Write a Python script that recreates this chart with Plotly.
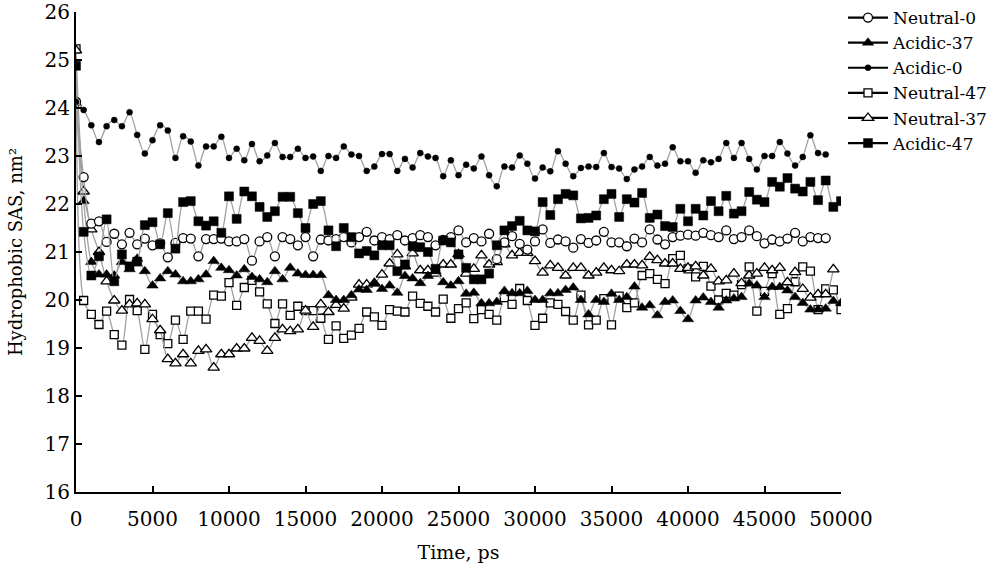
import plotly.graph_objects as go

TIME = [i * 500 for i in range(101)]

NEUTRAL_0 = [24.13, 22.56, 21.59, 21.64, 21.21, 21.38, 21.16, 21.40, 21.16, 21.28,
             21.14, 21.18, 20.89, 21.19, 21.29, 21.28, 20.91, 21.27, 21.27, 21.28,
             21.22, 21.22, 21.27, 20.82, 21.22, 21.31, 20.91, 21.31, 21.27, 21.14,
             21.31, 20.91, 21.26, 21.24, 21.27, 21.31, 21.20, 21.31, 21.42, 21.24,
             21.31, 21.27, 21.35, 21.24, 21.29, 21.35, 21.31, 21.14, 21.25, 21.31,
             21.45, 21.20, 21.29, 21.22, 21.38, 20.85, 21.20, 21.33, 21.17, 21.05,
             21.22, 21.47, 21.19, 21.26, 21.22, 21.09, 21.27, 21.19, 21.24, 21.42,
             21.20, 21.20, 21.12, 21.28, 21.20, 21.47, 21.26, 21.16, 21.31, 21.34,
             21.36, 21.34, 21.40, 21.35, 21.31, 21.45, 21.27, 21.31, 21.45, 21.33,
             21.18, 21.26, 21.22, 21.28, 21.40, 21.22, 21.31, 21.29, 21.29, None, None]

ACIDIC_37 = [24.10, 22.06, 20.79, 20.53, 20.53, 20.51, 20.79, 20.64, 20.86, 20.60,
             20.30, 20.45, 20.60, 20.53, 20.39, 20.39, 20.43, 20.53, 20.81, 20.67,
             20.62, 20.51, 20.64, 20.48, 20.43, 20.37, 20.60, 20.43, 20.67, 20.55,
             20.52, 20.52, 20.52, 20.10, 20.00, 20.00, 20.10, 20.22, 20.21, 20.34,
             20.23, 20.30, 20.15, 20.50, 20.45, 20.35, 20.50, 20.60, 20.37, 20.30,
             20.39, 20.13, 20.15, 19.93, 19.93, 19.96, 20.19, 20.14, 20.14, 20.19,
             20.00, 20.00, 20.14, 20.14, 20.21, 20.26, 20.00, 19.70, 20.00, 19.96,
             20.13, 20.00, 20.06, 20.28, 19.84, 19.89, 19.68, 19.96, 19.99, 19.77,
             19.60, 19.99, 20.05, 19.96, 19.84, 19.99, 20.03, 20.06, 20.34, 20.30,
             20.06, 20.27, 20.27, 20.20, 20.06, 19.94, 19.80, 19.80, 19.82, 19.98, 19.94]

ACIDIC_0 = [24.13, 23.96, 23.64, 23.29, 23.62, 23.75, 23.62, 23.91, 23.44, 23.05,
            23.33, 23.64, 23.53, 22.96, 23.41, 23.30, 22.80, 23.20, 23.20, 23.40,
            22.96, 23.15, 22.91, 23.25, 22.89, 23.01, 23.27, 22.98, 22.98, 23.15,
            22.96, 22.99, 22.69, 23.00, 22.96, 23.20, 23.03, 23.00, 22.69, 22.78,
            23.04, 23.04, 22.69, 22.94, 22.76, 23.06, 22.99, 22.96, 22.58, 22.91,
            22.60, 22.82, 22.74, 22.99, 22.60, 22.37, 22.78, 22.76, 23.01, 22.84,
            22.53, 22.76, 22.68, 23.10, 22.84, 22.58, 22.75, 22.78, 22.77, 23.06,
            22.77, 22.74, 22.52, 22.72, 22.78, 22.98, 22.80, 22.84, 23.18, 22.89,
            22.89, 22.65, 22.91, 22.87, 22.94, 23.27, 22.96, 23.27, 22.94, 22.72,
            23.00, 23.00, 23.29, 23.05, 22.80, 22.98, 23.43, 23.06, 23.03, None, None]

NEUTRAL_47 = [25.23, 19.99, 19.70, 19.49, 19.77, 19.28, 19.06, 20.01, 19.78, 18.97,
              19.70, 19.28, 19.09, 19.58, 19.18, 19.77, 19.77, 19.60, 20.10, 20.08,
              20.36, 19.89, 20.26, 20.41, 20.17, 19.92, 19.51, 19.92, 19.68, 19.87,
              19.78, 19.78, 19.62, 19.18, 19.46, 19.20, 19.27, 19.41, 19.75, 19.65,
              19.47, 19.80, 19.77, 19.75, 20.08, 19.93, 19.87, 19.75, 20.02, 19.62,
              19.82, 19.94, 19.61, 19.80, 19.70, 19.58, 20.05, 19.91, 20.24, 19.99,
              19.47, 19.62, 19.94, 19.91, 19.76, 19.58, 20.10, 19.48, 19.58, 20.03,
              19.48, 20.08, 19.84, 19.94, 20.51, 20.55, 20.43, 20.34, 20.86, 20.93,
              20.65, 20.48, 20.70, 20.29, 20.00, 20.14, 20.10, 20.32, 20.69, 19.77,
              20.18, 20.55, 19.70, 19.82, 20.38, 20.69, 20.60, 19.80, 20.23, 20.21, 19.80]

NEUTRAL_37 = [25.20, 22.26, 21.47, 21.00, 20.39, 19.99, 19.78, 19.91, 19.93, 19.91,
              19.60, 19.37, 18.77, 18.68, 18.87, 18.68, 18.94, 18.97, 18.59, 18.87,
              18.87, 18.99, 18.99, 19.21, 19.15, 18.94, 19.21, 19.39, 19.35, 19.39,
              19.78, 19.44, 19.91, 19.75, 19.90, 19.82, 20.05, 20.32, 20.32, 20.35,
              20.53, 20.76, 20.95, 20.70, 20.97, 20.62, 20.62, 20.55, 20.74, 20.74,
              20.95, 20.55, 20.65, 20.93, 20.74, 20.79, 21.16, 20.93, 20.98, 20.98,
              20.81, 20.57, 20.72, 20.67, 20.51, 20.67, 20.67, 20.51, 20.57, 20.67,
              20.62, 20.60, 20.74, 20.74, 20.72, 20.90, 20.83, 20.76, 20.76, 20.65,
              20.67, 20.70, 20.51, 20.65, 20.39, 20.41, 20.55, 20.35, 20.51, 20.55,
              20.67, 20.62, 20.67, 20.37, 20.58, 20.23, 20.05, 20.12, 20.12, 20.64, None]

ACIDIC_47 = [24.88, 21.42, 20.51, 20.91, 21.68, 20.39, 20.95, 20.70, 20.80, 21.56,
             21.62, 21.16, 21.81, 21.07, 22.04, 22.06, 21.64, 21.55, 21.64, 21.40,
             22.16, 21.69, 22.26, 22.16, 21.94, 21.73, 21.85, 22.15, 22.15, 21.81,
             21.50, 22.00, 22.06, 21.45, 21.12, 21.50, 21.31, 20.97, 21.02, 20.93,
             21.14, 21.14, 20.60, 20.74, 21.12, 21.10, 21.00, 20.65, 21.24, 21.20,
             20.95, 20.67, 20.43, 20.43, 20.55, 21.14, 21.45, 21.54, 21.65, 21.45,
             21.43, 22.04, 21.77, 22.10, 22.21, 22.18, 21.70, 21.71, 21.76, 22.10,
             22.21, 21.73, 22.10, 22.03, 22.23, 21.71, 21.78, 21.54, 21.52, 21.90,
             21.64, 21.90, 21.76, 22.06, 21.85, 22.17, 21.80, 21.85, 22.25, 22.09,
             22.04, 22.46, 22.36, 22.54, 22.32, 22.26, 22.46, 22.08, 22.49, 21.94, 22.06]

SERIES_NAMES = ["Neutral-0", "Acidic-37", "Acidic-0", "Neutral-47", "Neutral-37", "Acidic-47"]
SERIES_VALUES = [NEUTRAL_0, ACIDIC_37, ACIDIC_0, NEUTRAL_47, NEUTRAL_37, ACIDIC_47]

X_TICKS = [0, 5000, 10000, 15000, 20000, 25000, 30000, 35000, 40000, 45000, 50000]
Y_TICKS = [16, 17, 18, 19, 20, 21, 22, 23, 24, 25, 26]

MARKERS = {
    "Neutral-0": dict(symbol="circle", size=9, color="white", line=dict(color="black", width=1.3)),
    "Acidic-37": dict(symbol="triangle-up", size=10, color="black", line=dict(color="black", width=0.5)),
    "Acidic-0": dict(symbol="circle", size=6, color="black", line=dict(color="black", width=0.5)),
    "Neutral-47": dict(symbol="square", size=8, color="white", line=dict(color="black", width=1.3)),
    "Neutral-37": dict(symbol="triangle-up", size=10, color="white", line=dict(color="black", width=1.3)),
    "Acidic-47": dict(symbol="square", size=9, color="black", line=dict(color="black", width=0.5)),
}

FONT = "DejaVu Serif"

fig = go.Figure()
draw_order = ["Neutral-47", "Neutral-37", "Acidic-37", "Neutral-0", "Acidic-47", "Acidic-0"]
for name in draw_order:
    vals = SERIES_VALUES[SERIES_NAMES.index(name)]
    fig.add_trace(go.Scatter(
        x=TIME, y=vals, mode="lines+markers", name=name, showlegend=False,
        line=dict(color="#a0a0a0", width=1.3, shape="spline", smoothing=0.8),
        marker=MARKERS[name], connectgaps=False,
    ))
for name in SERIES_NAMES:
    fig.add_trace(go.Scatter(
        x=[None], y=[None], mode="lines+markers", name=name, showlegend=True,
        line=dict(color="black", width=2.2), marker=MARKERS[name],
    ))

fig.update_layout(
    width=1000, height=568,
    margin=dict(l=76, r=159, t=12, b=76),
    paper_bgcolor="white", plot_bgcolor="white",
    font=dict(family=FONT, size=18, color="black"),
    legend=dict(xref="container", yref="container", x=0.843, y=1.0,
                xanchor="left", yanchor="top",
                font=dict(family=FONT, size=17),
                bgcolor="rgba(0,0,0,0)", itemwidth=40),
    xaxis=dict(range=[0, 50000], tickvals=X_TICKS, ticktext=[str(v) for v in X_TICKS],
               showline=True, linecolor="black", linewidth=2, ticks="inside",
               ticklen=6, tickcolor="black", tickwidth=1.5, showgrid=False, zeroline=False,
               automargin=False, tickfont=dict(family=FONT, size=20), ticklabelstandoff=8,
               title=dict(text="Time, ps", standoff=16, font=dict(family=FONT, size=19))),
    yaxis=dict(range=[16, 26], tickvals=Y_TICKS, ticktext=[str(v) for v in Y_TICKS],
               showline=True, linecolor="black", linewidth=2, ticks="inside",
               ticklen=6, tickcolor="black", tickwidth=1.5, showgrid=False, zeroline=False,
               automargin=False, tickfont=dict(family=FONT, size=20),
               title=dict(text="Hydrophobic SAS, nm²", standoff=17, font=dict(family=FONT, size=18))),
)

fig.write_html("out.html", config={"displayModeBar": False},
               post_script="document.body.style.margin='0';")
